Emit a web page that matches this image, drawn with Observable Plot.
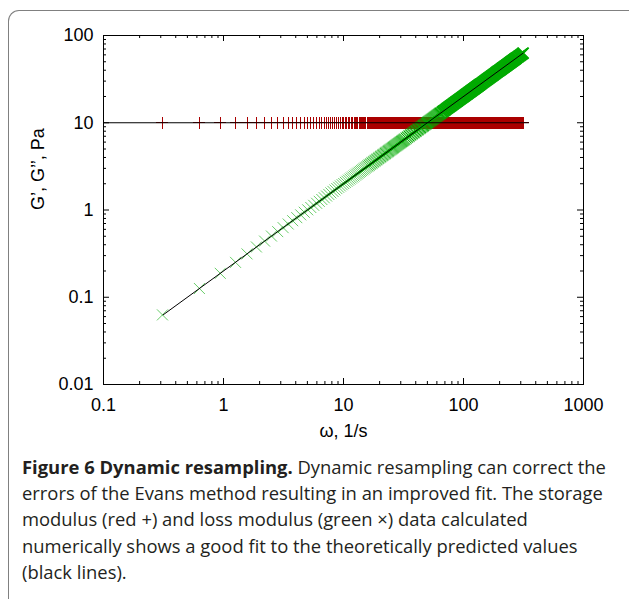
<!DOCTYPE html>
<html>
<head>
<meta charset="utf-8">
<script src="https://cdn.jsdelivr.net/npm/d3@7"></script>
<script src="https://cdn.jsdelivr.net/npm/@observablehq/plot@0.6"></script>
<style>
  html, body { margin: 0; padding: 0; background: #fff; }
  #wrap { position: relative; width: 629px; height: 599px; overflow: hidden; }
  #frame { position: absolute; left: 8px; top: 10px; width: 700px; height: 700px;
           border-left: 1.5px solid #808080; border-top: 1.5px solid #808080;
           border-top-left-radius: 11px; pointer-events: none; }
  #chart { position: absolute; left: 0; top: 0; }
  #caption { position: absolute; left: 22px; top: 454px; font-family: "Open Sans", sans-serif;
             font-size: 18.4px; line-height: 26.2px; color: #231f20; white-space: nowrap; }
  #caption b { font-weight: 700; }
</style>
</head>
<body>
<div id="wrap">
  <div id="chart"></div>
  <div id="frame"></div>
  <div id="caption"></div>
</div>
<script>
// ---- data ----
// angular frequencies (1/s) of the plotted samples
const omega = [
0.31,0.63,0.94,1.26,1.57,1.88,2.20,2.51,2.83,3.14,3.46,3.77,4.08,4.40,4.71,5.03,5.34,5.65,5.97,6.28,
6.60,6.91,7.23,7.54,7.85,8.17,8.48,8.80,9.11,9.42,9.74,10.05,10.37,10.68,11.00,11.31,11.62,11.94,12.25,12.57,
12.88,13.19,13.51,13.82,14.14,14.45,14.77,15.08,15.39,15.71,16.02,16.34,16.65,16.96,17.28,17.59,17.91,18.22,18.54,18.85,
19.16,19.48,19.79,20.11,20.42,20.73,21.05,21.36,21.68,21.99,22.31,22.62,22.93,23.25,23.56,23.88,24.19,24.50,24.82,25.13,
25.45,25.76,26.08,26.39,26.70,27.02,27.33,27.65,27.96,28.27,28.59,28.90,29.22,29.53,29.85,30.16,30.47,30.79,31.10,31.42,
31.73,32.04,32.36,32.67,
33.30,33.93,34.56,35.19,35.81,36.44,37.07,37.70,38.33,38.96,39.58,40.21,40.84,41.47,42.10,42.73,43.35,43.98,44.61,45.24,
45.87,46.50,47.12,47.75,48.38,49.01,49.64,50.27,50.89,51.52,52.15,52.78,53.41,54.04,54.66,55.29,55.92,56.55,57.18,57.81,
58.43,59.06,59.69,60.32,60.95,61.58,62.20,62.83,63.46,64.09,64.72,65.35,
66.6,67.9,69.1,70.4,71.6,72.9,74.1,75.4,76.7,77.9,79.2,80.4,81.7,82.9,84.2,85.5,86.7,88.0,89.2,90.5,
91.7,93.0,94.2,95.5,96.8,98.0,99.3,100.5,101.8,103.0,104.3,105.6,106.8,108.1,109.3,110.6,111.8,113.1,114.4,115.6,
116.9,118.1,119.4,120.6,121.9,123.2,124.4,125.7,126.9,128.2,129.4,130.7,131.9,133.2,134.5,135.7,137.0,138.2,
140.7,143.3,145.8,148.3,150.8,153.3,155.8,158.3,160.8,163.4,165.9,168.4,170.9,173.4,175.9,178.4,181.0,183.5,186.0,188.5,
191.0,193.5,196.0,198.5,201.1,203.6,206.1,208.6,211.1,213.6,216.1,218.7,221.2,223.7,226.2,228.7,231.2,233.7,236.2,238.8,
241.3,243.8,246.3,248.8,251.3,253.8,256.4,258.9,261.4,263.9,266.4,268.9,271.4,273.9,276.5,
281.5,286.5,291.5,296.6,301.6,306.6,311.6,314.2
];
// storage modulus G' (Pa): every red + sits on 10 Pa
const storageModulus = 10;
// loss modulus G'' (Pa) at the same frequencies (green x)
const lossModulus = [
0.0628,0.126,0.188,0.251,0.314,0.377,0.440,0.503,0.565,0.628,0.691,0.754,0.817,0.880,0.942,1.005,1.068,1.131,1.194,1.257,
1.319,1.382,1.445,1.508,1.571,1.634,1.696,1.759,1.822,1.885,1.948,2.011,2.073,2.136,2.199,2.262,2.325,2.388,2.450,2.513,
2.576,2.639,2.702,2.765,2.827,2.890,2.953,3.016,3.079,3.142,3.204,3.267,3.330,3.393,3.456,3.519,3.581,3.644,3.707,3.770,
3.833,3.896,3.958,4.021,4.084,4.147,4.210,4.273,4.335,4.398,4.461,4.524,4.587,4.650,4.712,4.775,4.838,4.901,4.964,5.027,
5.089,5.152,5.215,5.278,5.341,5.404,5.466,5.529,5.592,5.655,5.718,5.781,5.843,5.906,5.969,6.032,6.095,6.158,6.220,6.283,
6.346,6.409,6.472,6.535,
6.66,6.79,6.91,7.04,7.16,7.29,7.41,7.54,7.67,7.79,7.92,8.04,8.17,8.29,8.42,8.55,8.67,8.80,8.92,9.05,
9.17,9.30,9.42,9.55,9.68,9.80,9.93,10.05,10.18,10.30,10.43,10.56,10.68,10.81,10.93,11.06,11.18,11.31,11.44,11.56,
11.69,11.81,11.94,12.06,12.19,12.32,12.44,12.57,12.69,12.82,12.94,13.07,
13.32,13.57,13.82,14.07,14.33,14.58,14.83,15.08,15.33,15.58,15.83,16.08,16.34,16.59,16.84,17.09,17.34,17.59,17.84,18.10,
18.35,18.60,18.85,19.10,19.35,19.60,19.85,20.11,20.36,20.61,20.86,21.11,21.36,21.61,21.87,22.12,22.37,22.62,22.87,23.12,
23.37,23.62,23.88,24.13,24.38,24.63,24.88,25.13,25.38,25.64,25.89,26.14,26.39,26.64,26.89,27.14,27.39,27.65,
28.15,28.65,29.15,29.66,30.16,30.66,31.16,31.67,32.17,32.67,33.18,33.68,34.18,34.68,35.19,35.69,36.19,36.69,37.20,37.70,
38.20,38.70,39.21,39.71,40.21,40.72,41.22,41.72,42.22,42.73,43.23,43.73,44.23,44.74,45.24,45.74,46.24,46.75,47.25,47.75,
48.25,48.76,49.26,49.76,50.27,50.77,51.27,51.77,52.28,52.78,53.28,53.78,54.29,54.79,55.29,
56.30,57.30,58.31,59.31,60.32,61.32,62.33,62.83
];
// theoretical curves (black lines)
const theoryStorageOmega = [0.1, 348];
const theoryLossOmega = [0.314, 314.2];
const theoryLoss = [0.0628, 62.83];

// axes
const xMajor = [0.1, 1, 10, 100, 1000];
const xTickLabels = ["0.1", "1", "10", "100", "1000"];
const xMinor = [0.2,0.3,0.4,0.5,0.6,0.7,0.8,0.9, 2,3,4,5,6,7,8,9, 20,30,40,50,60,70,80,90, 200,300,400,500,600,700,800,900];
const yMajor = [0.01, 0.1, 1, 10, 100];
const yTickLabels = ["0.01", "0.1", "1", "10", "100"];
const yMinor = [0.02,0.03,0.04,0.05,0.06,0.07,0.08,0.09, 0.2,0.3,0.4,0.5,0.6,0.7,0.8,0.9, 2,3,4,5,6,7,8,9, 20,30,40,50,60,70,80,90];
const xTitle = "\u03c9, 1/s";
const yTitle = "G\u2019, G\u2019\u2019, Pa";
const captionBold = "Figure 6 Dynamic resampling.";
const captionLines = [
  " Dynamic resampling can correct the",
  "errors of the Evans method resulting in an improved fit. The storage",
  "modulus (red +) and loss modulus (green \u00d7) data calculated",
  "numerically shows a good fit to the theoretically predicted values",
  "(black lines)."
];

// ---- marker shapes (gnuplot style + and x) ----
const plusSymbol = {draw(ctx, size) { const r = Math.sqrt(size / Math.PI);
  ctx.moveTo(-r, 0); ctx.lineTo(r, 0); ctx.moveTo(0, -r); ctx.lineTo(0, r); }};
const crossSymbol = {draw(ctx, size) { const r = Math.sqrt(size / Math.PI);
  ctx.moveTo(-r, -r); ctx.lineTo(r, r); ctx.moveTo(-r, r); ctx.lineTo(r, -r); }};

const red = "#aa0000", green = "#00aa00";
const W = 629, H = 450, mL = 103, mR = 46, mT = 35, mB = 66;
const fw = W - mL - mR, fh = H - mT - mB;
const major = 6, minor = 3;
// rendering style: thin crosses where they stand apart, heavier where the samples pile up
const crossWidth = (w) => w < 16 ? 0.6 : w < 33 ? 0.75 : w < 66 ? 1.0 : 1.7;

const chart = Plot.plot({
  width: W,
  height: H,
  marginLeft: mL,
  marginRight: mR,
  marginTop: mT,
  marginBottom: mB,
  x: {type: "log", domain: [0.1, 1000]},
  y: {type: "log", domain: [0.01, 100]},
  style: {fontFamily: "'Liberation Sans', Arial, sans-serif", fontSize: "18px", color: "black", background: "white"},
  marks: [
    Plot.dot(omega, {x: omega, y: storageModulus, symbol: plusSymbol, r: 6, fill: "none", stroke: red, strokeWidth: 1, shapeRendering: "crispEdges"}),
    Plot.dot(omega, {x: omega, y: lossModulus, symbol: crossSymbol, r: 5.5, fill: "none", stroke: green, strokeWidth: omega.map(crossWidth)}),
    Plot.line(theoryStorageOmega, {x: theoryStorageOmega, y: storageModulus, stroke: "black", strokeWidth: 1}),
    Plot.line(theoryLossOmega, {x: theoryLossOmega, y: theoryLoss, stroke: "black", strokeWidth: 1}),
    // inward ticks on all four sides
    Plot.ruleX(xMajor, {x: d => d, insetTop: fh - major, stroke: "black"}),
    Plot.ruleX(xMinor, {x: d => d, insetTop: fh - minor, stroke: "black"}),
    Plot.ruleX(xMajor, {x: d => d, insetBottom: fh - major, stroke: "black"}),
    Plot.ruleX(xMinor, {x: d => d, insetBottom: fh - minor, stroke: "black"}),
    Plot.ruleY(yMajor, {y: d => d, insetRight: fw - major, stroke: "black"}),
    Plot.ruleY(yMinor, {y: d => d, insetRight: fw - minor, stroke: "black"}),
    Plot.ruleY(yMajor, {y: d => d, insetLeft: fw - major, stroke: "black"}),
    Plot.ruleY(yMinor, {y: d => d, insetLeft: fw - minor, stroke: "black"}),
    Plot.frame({stroke: "black", strokeWidth: 1}),
    // tick labels
    Plot.axisX({anchor: "bottom", ticks: xMajor, tickSize: 0, tickPadding: 14, tickFormat: d => xTickLabels[xMajor.indexOf(d)], label: null}),
    Plot.axisY({anchor: "left", ticks: yMajor, tickSize: 0, tickPadding: 10, tickFormat: d => yTickLabels[yMajor.indexOf(d)], label: null}),
    // axis titles
    Plot.text([xTitle], {text: d => d, frameAnchor: "bottom", dy: 52, fontSize: 18}),
    Plot.text([yTitle], {text: d => d, frameAnchor: "left", dx: -65, rotate: -90, fontSize: 18})
  ]
});
document.getElementById("chart").appendChild(chart);

const cap = document.getElementById("caption");
const b = document.createElement("b");
b.textContent = captionBold;
cap.appendChild(b);
captionLines.forEach((line, i) => {
  if (i > 0) cap.appendChild(document.createElement("br"));
  cap.appendChild(document.createTextNode(line));
});
</script>
</body>
</html>
